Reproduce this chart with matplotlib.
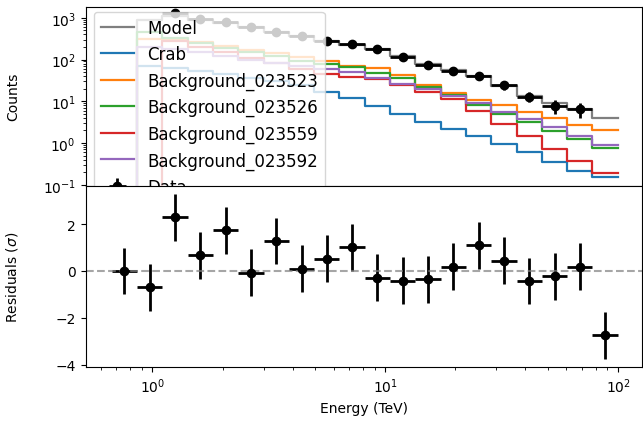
import numpy as np
import matplotlib
matplotlib.use("Agg")
import matplotlib.pyplot as plt

# Energy bin edges (TeV)
energy_edges = [0.669, 0.859, 1.104, 1.417, 1.820, 2.337, 3.002, 3.855, 4.951,
                6.359, 8.166, 10.49, 13.47, 17.30, 22.22, 28.53, 36.64, 47.06,
                60.43, 77.61, 100.0]

# Predicted counts per bin (0 = bin not shown)
model = [0, 900, 1100, 900, 770, 590, 460, 360, 284, 224, 180, 120, 78, 57,
         40, 22.9, 13.2, 8.9, 6.5, 3.9]
crab = [0, 72, 62, 52, 45, 37, 30, 24, 16.6, 11.8, 7.6, 4.96, 3.13, 2.2, 1.5,
        0.95, 0.6, 0.344, 0.217, 0.15]
bkg_023523 = [0, 320, 300, 260, 210, 170, 140, 115, 94, 71, 62, 42.7, 24.6,
              15.8, 10.9, 8.1, 5.4, 3.9, 2.7, 2.05]
bkg_023526 = [0, 470, 330, 250, 190, 150, 120, 95, 78, 65, 47.7, 35.5, 21.6,
              14.2, 8.1, 4.96, 3.13, 1.98, 1.25, 0.745]
bkg_023559 = [0, 0, 280, 200, 150, 110, 85, 60, 45, 37.6, 34.3, 24.6, 17,
              11.4, 5.96, 2.86, 1.5, 0.718, 0.377, 0.19]
bkg_023592 = [0, 200, 180, 150, 120, 100, 85, 70, 59, 49.5, 35.5, 26, 19.7,
              13.7, 9.1, 5.6, 3.76, 2.38, 1.5, 0.895]

# Observed counts (0 = not shown on log axis)
data = [0, 0, 1330, 940, 810, 590, 470, 370, 285, 230, 176, 116, 75, 54,
        40, 24, 13, 7.7, 6.5, 0]

# Residuals in sigma
residuals = [0.0, -0.70, 2.30, 0.67, 1.73, -0.08, 1.28, 0.10, 0.53, 1.02,
             -0.28, -0.42, -0.36, 0.18, 1.09, 0.43, -0.43, -0.22, 0.18, -2.75]
residual_err = [1.0] * 20

series = [
    ("Model", model, "tab:gray"),
    ("Crab", crab, "tab:blue"),
    ("Background_023523", bkg_023523, "tab:orange"),
    ("Background_023526", bkg_023526, "tab:green"),
    ("Background_023559", bkg_023559, "tab:red"),
    ("Background_023592", bkg_023592, "tab:purple"),
]

edges = np.array(energy_edges)
centers = np.sqrt(edges[:-1] * edges[1:])
xerr = np.vstack([centers - edges[:-1], edges[1:] - centers])

W, H = 643, 439
DPI = 100
fig = plt.figure(figsize=(W / DPI, H / DPI), dpi=DPI)
left, right = 85.5 / W, 641.5 / W
ax1 = fig.add_axes([left, 1 - 186.5 / H, right - left, (186.5 - 8) / H])
ax2 = fig.add_axes([left, 1 - 368 / H, right - left, (368 - 186.5) / H], sharex=ax1)

for label, vals, color in series:
    v = np.array(vals, dtype=float)
    ax1.step(edges, np.append(v, v[-1]), where="post", color=color, lw=1.6,
             label=label)

d = np.array(data, dtype=float)
m = d > 0
ax1.errorbar(centers[m], d[m], xerr=xerr[:, m], yerr=np.sqrt(d[m]), fmt="o",
             color="black", ms=6, elinewidth=2, capsize=0, label="Data")

ax1.set_xscale("log")
ax1.set_yscale("log")
ax1.set_ylim(0.096, 1820)
ax1.set_xlim(0.516, 126)
ax1.set_ylabel("Counts")
ax1.yaxis.set_label_coords(-0.118, 0.5)
ax1.tick_params(labelbottom=False)
ax1.legend(loc="upper left", fontsize=12, bbox_to_anchor=(0, 1.018))

ax2.errorbar(centers, residuals, xerr=xerr, yerr=residual_err, fmt="o",
             color="black", ms=6, elinewidth=2, capsize=0)
ax2.axhline(0, color="gray", ls="--", lw=1.5, alpha=0.7)
ax2.set_ylim(-4.1, 3.65)
ax2.set_ylabel("Residuals ($\\sigma$)")
ax2.yaxis.set_label_coords(-0.118, 0.5)
ax2.set_xlabel("Energy (TeV)")

fig.savefig("out.png", dpi=DPI)
